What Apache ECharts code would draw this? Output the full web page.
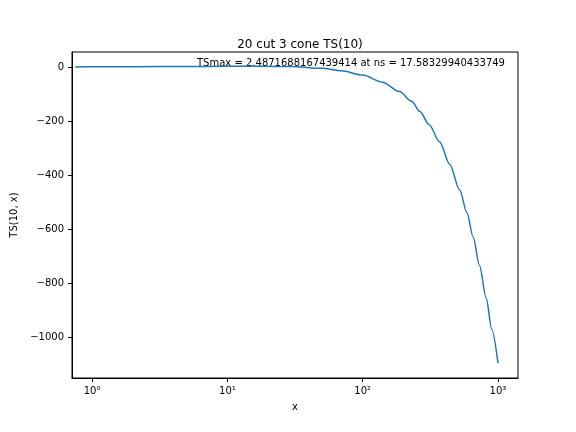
<!DOCTYPE html>
<html><head><meta charset="utf-8">
<script src="https://cdn.jsdelivr.net/npm/echarts@6/dist/echarts.min.js"></script>
<style>html,body{margin:0;padding:0;background:#fff}#c{width:576px;height:432px}</style>
</head><body><div id="c"></div>
<script>
var xs = [0.75, 1, 2, 5, 10, 17.58, 30, 50, 70, 100, 140, 187, 230, 265, 310, 370, 440, 521, 590, 654, 730, 818, 900, 1000];
var ys = [0.3, 0.6, 1.3, 2.1, 2.4, 2.49, 1.5, -5, -14, -30, -56, -91, -127, -165, -214, -277, -360, -456, -540, -628, -735, -856, -972, -1097];
var yTicks = [-1000, -800, -600, -400, -200, 0];
var titleText = '20 cut 3 cone TS(10)';
var noteText = 'TSmax = 2.4871688167439414 at ns = 17.58329940433749';
var sup = {'0':'⁰','1':'¹','2':'²','3':'³'};
var chart = echarts.init(document.getElementById('c'));
chart.setOption({
  animation:false,
  textStyle:{fontFamily:'DejaVu Sans'},
  title:{text:titleText,left:295,textAlign:'center',top:34,textStyle:{fontSize:12,fontWeight:'normal',color:'#000',fontFamily:'DejaVu Sans'}},
  grid:{left:72,right:58,top:52,bottom:54},
  xAxis:{type:'log',logBase:10,min:0.71,max:1406,name:'x',nameLocation:'middle',nameGap:24,
    nameTextStyle:{fontSize:10,color:'#000'},
    axisLine:{onZero:false,lineStyle:{color:'#000'}},axisTick:{show:true,length:4,lineStyle:{color:'#000'}},
    splitLine:{show:false},
    axisLabel:{color:'#000',fontSize:10,showMinLabel:false,showMaxLabel:false,formatter:function(v){
      var e=Math.round(Math.log10(v)); if(Math.abs(Math.log10(v)-e)>1e-6) return ''; return '10'+(sup[String(e)]||e);}}},
  yAxis:{type:'value',min:-1152,max:55.6,name:'TS(10, x)',nameLocation:'middle',nameGap:46,
    nameTextStyle:{fontSize:10,color:'#000'},
    axisLine:{show:true,lineStyle:{color:'#000'}},
    axisTick:{show:true,length:4,lineStyle:{color:'#000'},customValues:yTicks},
    splitLine:{show:false},
    axisLabel:{color:'#000',fontSize:10,customValues:yTicks,formatter:function(v){return v<0?'−'+(-v):String(v);}}},
  series:[{type:'line',data:xs.map(function(x,i){return [x,ys[i]];}),smooth:0.3,smoothMonotone:'x',showSymbol:false,
    lineStyle:{color:'#1f77b4',width:1.5}}],
  graphic:[{type:'text',left:197,top:58,style:{text:noteText,fontSize:10,fill:'#000',fontFamily:'DejaVu Sans'}},
    {type:'rect',shape:{x:72,y:52,width:446,height:326},style:{fill:'none',stroke:'#000',lineWidth:1},silent:true}]
});
</script></body></html>
